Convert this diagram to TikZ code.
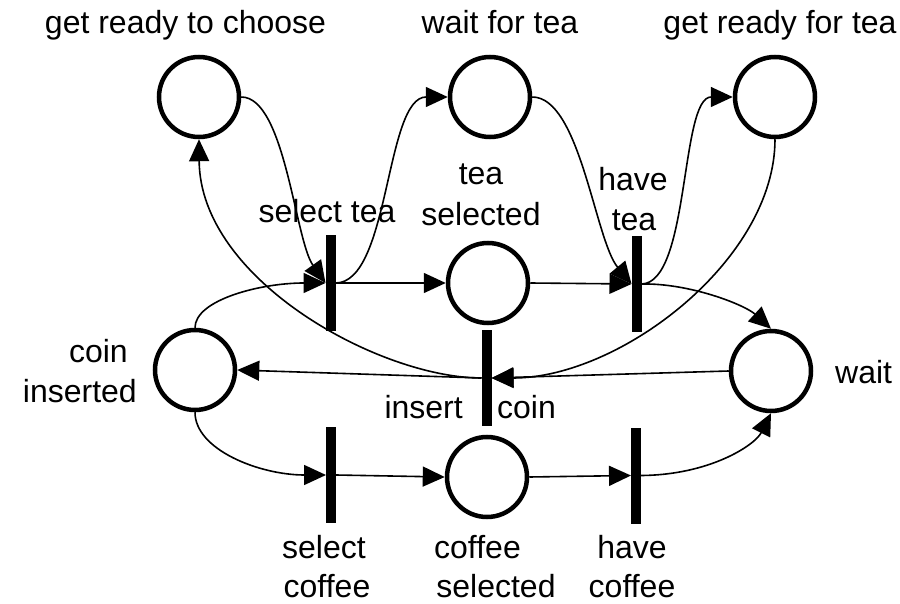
\documentclass[tikz,border=0pt]{standalone}
\usepackage{fontspec}
\setmainfont{Liberation Sans}
\usetikzlibrary{arrows.meta}
\begin{document}
\begin{tikzpicture}[x=1pt,y=-1pt,
  place/.style={circle,draw,line width=4.5pt,minimum size=80pt,inner sep=0pt},
  trans/.style={rectangle,fill=black,minimum width=10pt,minimum height=96pt,inner sep=0pt,outer sep=0pt},
  lbl/.style={inner sep=0pt,font=\fontsize{32}{39}\selectfont},
  arc/.style={line width=1.6pt,-{Triangle[length=22pt,width=20pt]}}
]
\useasboundingbox (0,0) rectangle (900,604);

% places
\node[place] (grc)  at (199,97)  {};
\node[place] (wft)  at (490,97)  {};
\node[place] (grt)  at (775,97)  {};
\node[place] (ts)   at (488,283) {};
\node[place] (ci)   at (195,370) {};
\node[place] (wait) at (771,371) {};
\node[place] (cs)   at (487,477) {};

% transitions
\node[trans] (st) at (330.5,283) {};
\node[trans] (ht) at (636.5,284) {};
\node[trans] (ic) at (486.5,378) {};
\node[trans] (sc) at (331,475)   {};
\node[trans] (hc) at (636,475.5) {};

% labels
\node[lbl,anchor=base] (l-grc) at (185.5,34) {get ready to choose};
\node[lbl,anchor=base] (l-wft) at (500,34) {wait for tea};
\node[lbl,anchor=base] (l-grt) at (780,34) {get ready for tea};
\node[lbl,anchor=base] (l-st) at (327,223) {select tea};
\node[lbl,anchor=base] (l-ts1) at (481,185) {tea};
\node[lbl,anchor=base] (l-ts2) at (481,226) {selected};
\node[lbl,anchor=base] (l-ht1) at (633,191) {have};
\node[lbl,anchor=base] (l-ht2) at (634,231) {tea};
\node[lbl,anchor=base east] (l-ci1) at (128,362) {coin};
\node[lbl,anchor=base east] (l-ci2) at (137,402) {inserted};
\node[lbl,anchor=base west] (l-wait) at (835,383) {wait};
\node[lbl,anchor=base east] (l-ic1) at (463,418) {insert};
\node[lbl,anchor=base west] (l-ic2) at (497,418) {coin};
\node[lbl,anchor=base] (l-sc1) at (324,558) {select};
\node[lbl,anchor=base] (l-sc2) at (327,597) {coffee};
\node[lbl,anchor=base] (l-cs1) at (477.5,558) {coffee};
\node[lbl,anchor=base] (l-cs2) at (496,597) {selected};
\node[lbl,anchor=base] (l-hc1) at (632,558) {have};
\node[lbl,anchor=base] (l-hc2) at (632,597) {coffee};

% arcs
\draw[arc] (ci.north) .. controls (195,300) and (260,283) .. (st.west);
\draw[arc] (grc.east) .. controls (285,97) and (295,240) .. (st.west);
\draw[arc] (st.east) .. controls (390,283) and (385,97) .. (wft.west);
\draw[arc] (st.east) -- (ts.west);
\draw[arc] (ts.east) -- (ht.west);
\draw[arc] (wft.east) .. controls (580,97) and (595,240) .. (ht.west);
\draw[arc] (ht.east) .. controls (690,283) and (680,97) .. (grt.west);
\draw[arc] (ht.east) .. controls (690,283) and (745,305) .. (wait.north);
\draw[arc] (grt.south) .. controls (775,260) and (620,378) .. (ic.east);
\draw[arc] (wait.west) -- (ic.east);
\draw[arc] (ic.west) -- (ci.east);
\draw[arc] (ic.west) .. controls (380,378) and (200,280) .. (grc.south);
\draw[arc] (ci.south) .. controls (195,450) and (260,475) .. (sc.west);
\draw[arc] (sc.east) -- (cs.west);
\draw[arc] (cs.east) -- (hc.west);
\draw[arc] (hc.east) .. controls (710,475) and (755,445) .. (wait.south);
\end{tikzpicture}
\end{document}
